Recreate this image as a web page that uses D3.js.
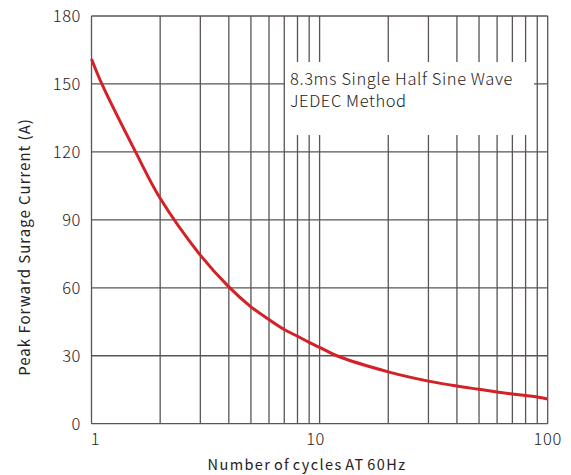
<!DOCTYPE html>
<html>
    <head>
        <meta charset="utf-8" />
        <script src="https://d3js.org/d3.v7.min.js"></script>
        <style>
            body { margin: 0; background: #fff; }
            text { font-family: 'Noto Sans CJK SC', 'Noto Sans', sans-serif; font-weight: 300; fill: #262222; }
        </style>
    </head>
    <body>
        <svg width="571" height="475"></svg>
        <script>
            // curve
            const cycles = [1, 1.11, 1.56, 2, 3, 4, 5, 6, 7, 8, 9, 10, 11.9, 20, 30, 40, 50, 60, 70, 80, 90, 100]
            const current = [161, 150, 120, 99.5, 74.4, 60.4, 51.6, 46, 41.6, 38.6, 35.9, 33.7, 30, 22.9, 18.8, 16.6, 15.2, 14, 13.1, 12.4, 11.8, 10.9]
            const yTicks = [0, 30, 60, 90, 120, 150, 180]
            const xGrid = [1, 2, 3, 4, 5, 6, 7, 8, 9, 10, 20, 30, 40, 50, 60, 70, 80, 90, 100]
            const xLabels = [1, 10, 100]
            const noteLines = ['8.3ms Single Half Sine Wave', 'JEDEC Method']

            const plotL = 91.5, plotR = 547.7, plotT = 16, plotB = 423.7
            const svg = d3.select('svg')

            const x = d3.scaleLog().domain([1, 100]).range([plotL, plotR])
            const y = d3.scaleLinear().domain([0, 180]).range([plotB, plotT])

            const grid = svg.append('g').attr('stroke', '#5a5454').attr('stroke-width', 1.3)
            grid.selectAll('line.v')
                .data(xGrid)
                .enter()
                .append('line')
                .attr('x1', (d) => x(d))
                .attr('x2', (d) => x(d))
                .attr('y1', plotT)
                .attr('y2', plotB)
            grid.selectAll('line.h')
                .data(yTicks)
                .enter()
                .append('line')
                .attr('x1', plotL)
                .attr('x2', plotR)
                .attr('y1', (d) => y(d))
                .attr('y2', (d) => y(d))

            // white box behind the note
            svg.append('rect')
                .attr('x', 285)
                .attr('y', 62)
                .attr('width', 249)
                .attr('height', 73)
                .attr('fill', '#fff')

            svg.selectAll('text.note')
                .data(noteLines)
                .enter()
                .append('text')
                .attr('x', 290)
                .attr('y', (d, i) => 85 + i * 22)
                .style('font-size', '16.5px')
                .style('letter-spacing', '0.6px')
                .text((d) => d)

            const line = d3.line()
                .x((d, i) => x(cycles[i]))
                .y((d) => y(d))
                .curve(d3.curveCatmullRom.alpha(0.5))
            svg.append('path')
                .datum(current)
                .attr('d', line)
                .attr('fill', 'none')
                .attr('stroke', '#d42027')
                .attr('stroke-width', 3)

            svg.selectAll('text.yt')
                .data(yTicks)
                .enter()
                .append('text')
                .attr('x', 81)
                .attr('y', (d) => y(d) + 6)
                .attr('text-anchor', 'end')
                .style('font-size', '16.5px')
                .style('letter-spacing', '0.6px')
                .text((d) => d)

            svg.selectAll('text.xt')
                .data(xLabels)
                .enter()
                .append('text')
                .attr('x', (d) => x(d) + (d === 1 ? 4 : d === 10 ? -4 : 0))
                .attr('y', 445)
                .attr('text-anchor', 'middle')
                .style('font-size', '16.5px')
                .style('letter-spacing', '0.6px')
                .text((d) => d)

            svg.append('text')
                .attr('x', 307)
                .attr('y', 470)
                .attr('text-anchor', 'middle')
                .style('font-size', '14.5px')
                .style('font-weight', 400)
                .style('letter-spacing', '1.4px')
                .style('word-spacing', '-2px')
                .text('Number of cycles AT 60Hz')

            svg.append('text')
                .attr('transform', 'translate(30,247) rotate(-90)')
                .attr('text-anchor', 'middle')
                .style('font-size', '15px')
                .style('font-weight', 400)
                .style('letter-spacing', '1px')
                .text('Peak Forward Surage Current (A)')
        </script>
    </body>
</html>
